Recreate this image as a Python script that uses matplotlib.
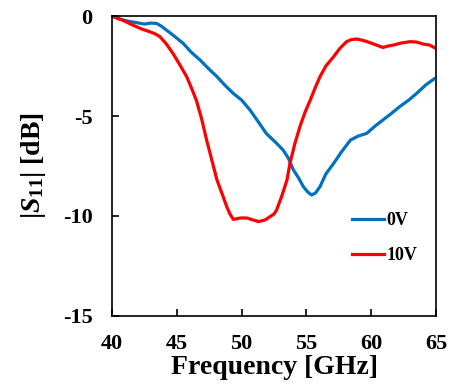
import matplotlib
matplotlib.use("Agg")
import matplotlib.pyplot as plt
import numpy as np

plt.rcParams["font.family"] = "Liberation Serif"
plt.rcParams["font.weight"] = "bold"
plt.rcParams["axes.unicode_minus"] = False
plt.rcParams["mathtext.fontset"] = "custom"
plt.rcParams["mathtext.rm"] = "Liberation Serif:bold"
plt.rcParams["mathtext.it"] = "Liberation Serif:italic:bold"
plt.rcParams["mathtext.bf"] = "Liberation Serif:bold"

# 0V curve
freq_0v = [40.0, 40.6, 41.2, 41.9, 42.5, 43.0, 43.45, 43.8, 44.2, 44.8, 45.5, 46.1, 46.8,
           47.4, 48.1, 48.7, 49.36, 50.0, 50.65, 51.3, 51.9, 52.6, 53.2, 53.6, 54.0,
           54.4, 54.76, 55.1, 55.4, 55.7, 56.05, 56.5, 57.1, 57.7, 58.4, 59.0, 59.65,
           60.3, 60.9, 61.5, 62.2, 62.9, 63.5, 64.2, 64.9, 65.0]
s11_0v = [0.0, -0.15, -0.25, -0.33, -0.4, -0.35, -0.37, -0.5, -0.7, -1.0, -1.37, -1.8, -2.2,
          -2.6, -3.03, -3.45, -3.87, -4.2, -4.7, -5.3, -5.87, -6.3, -6.7, -7.1, -7.7,
          -8.1, -8.53, -8.8, -8.95, -8.85, -8.53, -7.9, -7.37, -6.8, -6.2, -6.0, -5.87,
          -5.5, -5.2, -4.9, -4.53, -4.2, -3.87, -3.45, -3.12, -3.1]

# 10V curve
freq_10v = [40.0, 40.8, 41.6, 42.3, 42.9, 43.3, 43.7, 44.2, 44.7, 45.2, 45.76, 46.1, 46.5,
            46.9, 47.3, 47.7, 48.1, 48.5, 48.85, 49.1, 49.36, 49.9, 50.4, 50.9, 51.3,
            51.8, 52.2, 52.5, 52.7, 53.1, 53.5, 53.73, 54.1, 54.5, 54.9, 55.3, 55.7,
            56.05, 56.5, 57.1, 57.6, 58.1, 58.5, 58.9, 59.4, 59.9, 60.4, 60.9, 61.3,
            61.7, 62.3, 63.0, 63.5, 64.0, 64.5, 65.0]
s11_10v = [0.0, -0.2, -0.45, -0.65, -0.78, -0.88, -1.03, -1.4, -1.87, -2.4, -3.03, -3.55, -4.2,
           -5.1, -6.2, -7.2, -8.2, -8.9, -9.53, -9.9, -10.17, -10.1, -10.1, -10.2, -10.28,
           -10.2, -10.03, -9.9, -9.7, -9.0, -8.2, -7.37, -6.4, -5.53, -4.8, -4.2, -3.55,
           -3.03, -2.5, -2.03, -1.6, -1.28, -1.17, -1.15, -1.22, -1.33, -1.45, -1.57, -1.5,
           -1.45, -1.35, -1.28, -1.3, -1.4, -1.45, -1.62]

labels = ["0V", "10V"]
colors = ["#0070C0", "#FF0000"]

fig = plt.figure(figsize=(4.54, 3.92), dpi=100)
ax = fig.add_axes([0.2467, 0.194, 0.7137, 0.765])

ax.plot(freq_0v, s11_0v, color=colors[0], lw=2.3, label=labels[0])
ax.plot(freq_10v, s11_10v, color=colors[1], lw=2.3, label=labels[1])

ax.set_xlim(40, 65)
ax.set_ylim(-15, 0)
ax.set_xticks([40, 45, 50, 55, 60, 65])
ax.set_yticks([0, -5, -10, -15])
ax.tick_params(direction="in", length=5, width=1.2, labelsize=16)
ax.tick_params(axis="x", pad=13)
ax.tick_params(axis="y", pad=14)
for s in ax.spines.values():
    s.set_linewidth(1.2)

ax.set_xlabel("Frequency [GHz]", fontsize=20, fontweight="bold", labelpad=1)
ax.set_ylabel(r"|$S_{\mathrm{11}}$| [dB]", fontsize=20, fontweight="bold", labelpad=11)

ax.legend(loc="center left", bbox_to_anchor=(0.69, 0.26), frameon=False,
          prop={"size": 13, "weight": "bold"}, handlelength=1.8, handletextpad=0.1,
          labelspacing=1.0)

fig.savefig("out.png", dpi=100)
